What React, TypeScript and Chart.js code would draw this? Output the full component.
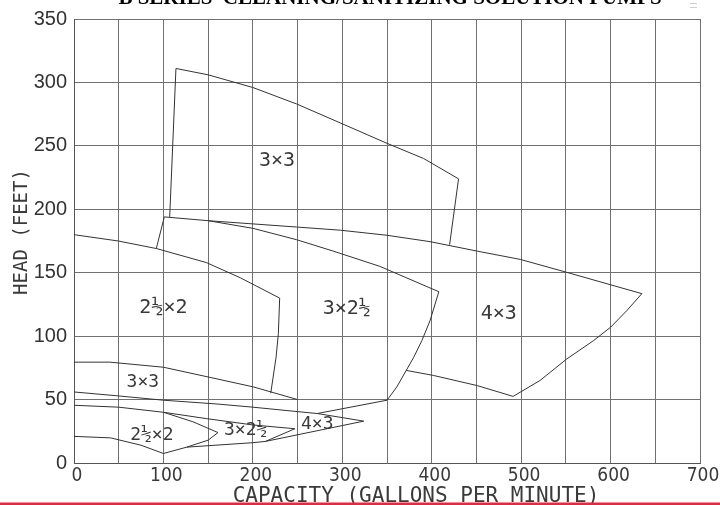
import React, { useEffect, useRef } from "react";
import { Chart, registerables } from "chart.js";

Chart.register(...registerables);

// ---- Text ----
const TITLE = "B SERIES  CLEANING/SANITIZING SOLUTION PUMPS";
const X_TITLE = "CAPACITY (GALLONS PER MINUTE)";
const Y_TITLE = "HEAD (FEET)";
const X_LABELED_TICKS = [0, 100, 200, 300, 400, 500, 600, 700];

// ---- Envelope outlines: [capacity gpm, head ft] ----
const BIG_3X3 = [[107, 194], [114, 311], [150, 306], [200, 296], [249, 283], [298, 268], [350, 252], [391, 240], [430, 224], [420, 172]];
const TOP_4X3 = [[101, 194], [150, 191], [249, 186], [298, 183.5], [350, 179.5], [398, 174.5], [451, 167], [499, 160.5], [550, 150.5], [600, 140.5], [635, 133.5]];
const EDGE_4X3 = [[635, 133.5], [618, 120], [600, 107], [581, 96.5], [551, 82], [521, 65], [491, 52.5], [451, 61], [402, 69], [371.5, 73]];
const TOP_3X2H = [[150, 191], [200, 185], [249, 176], [290, 167], [342, 155], [408, 135], [398, 112], [389, 96.5], [380, 83.5], [371.5, 73], [361, 60], [350, 49.5], [272, 39]];
const LEFT_3X2H = [[101, 194], [92, 169]];
const BIG_2HX2 = [[0, 180], [49.5, 175], [92.5, 169], [148, 158], [186, 146], [230, 130], [228.5, 102], [226, 83.5], [220, 55]];
const SMALL_3X3_TOP = [[0, 79.5], [40, 79.5], [100, 75.5], [152, 67.5], [200.5, 60], [250, 50]];
const LINE_56 = [[0, 56], [48, 53], [100, 49.5], [160, 46.5], [200, 44], [250, 40.5], [272, 39], [324, 33]];
const SMALL_2HX2_TOP = [[0, 45.5], [50, 44], [100, 40], [133, 32.5], [161, 24]];
const SMALL_2HX2_BOTTOM = [[0, 21], [41, 19.8], [75, 14], [100, 7.5], [126, 12.5], [150, 18], [161, 24]];
const SMALL_3X2H_TOP = [[100, 40], [148, 35], [200, 30], [247, 27], [214, 17]];
const SMALL_BOTTOM = [[126, 12.5], [200, 16], [214, 17], [324, 33]];

const OUTLINES = [BIG_3X3, TOP_4X3, EDGE_4X3, TOP_3X2H, LEFT_3X2H, BIG_2HX2, SMALL_3X3_TOP, LINE_56, SMALL_2HX2_TOP, SMALL_2HX2_BOTTOM, SMALL_3X2H_TOP, SMALL_BOTTOM];

// ---- Region labels ----
const LABEL_TEXTS = ["3×3", "2½×2", "3×2½", "4×3", "3×3", "2½×2", "3×2½", "4×3"];
const LABEL_X = [227, 100, 305, 475, 77, 87, 192, 272];
const LABEL_Y = [240, 124, 123.5, 119, 65, 23.3, 27.2, 32.2];
const LABEL_BIG = [true, true, true, true, false, false, false, false];

const MONO = '"DejaVu Sans Mono", monospace';
const TEXT_COLOR = "#3a3a3a";

const decorPlugin = {
  id: "decor",
  afterDraw(chart: any) {
    const { ctx, scales } = chart;
    const xs = scales.x;
    const ys = scales.y;
    ctx.save();
    // title (cut at top)
    ctx.fillStyle = "#000";
    ctx.font = 'bold 21px "Liberation Serif", "Times New Roman", serif';
    ctx.textAlign = "center";
    ctx.textBaseline = "alphabetic";
    ctx.fillText(TITLE, 390, 4);

    // axis titles
    ctx.fillStyle = TEXT_COLOR;
    ctx.font = "21px " + MONO;
    ctx.fillText(X_TITLE, 416, 501.5);
    ctx.save();
    ctx.translate(27, 232);
    ctx.rotate(-Math.PI / 2);
    ctx.font = "19px " + MONO;
    ctx.fillText(Y_TITLE, 0, 0);
    ctx.restore();

    // region labels
    for (let i = 0; i < LABEL_TEXTS.length; i++) {
      const size = LABEL_BIG[i] ? 20 : 18;
      ctx.font = size + "px " + MONO;
      const px = xs.getPixelForValue(LABEL_X[i]);
      const py = ys.getPixelForValue(LABEL_Y[i]);
      ctx.fillText(LABEL_TEXTS[i], px, py + size * 0.365);
    }

    // red rule at bottom
    ctx.fillStyle = "#e5283f";
    ctx.fillRect(0, 502.5, 720, 2.5);

    // faint marks top right
    ctx.strokeStyle = "#cfcfcf";
    ctx.lineWidth = 1;
    ctx.beginPath();
    ctx.moveTo(690, 3.5);
    ctx.lineTo(697, 3.5);
    ctx.moveTo(690, 7.5);
    ctx.lineTo(697, 7.5);
    ctx.stroke();
    ctx.restore();
  },
};

export default function App() {
  const ref = useRef<HTMLCanvasElement | null>(null);
  useEffect(() => {
    document.body.style.margin = "0";
    const canvas = ref.current;
    if (!canvas) return;
    const datasets = OUTLINES.map((pts) => ({
      data: pts.map((p) => ({ x: p[0], y: p[1] })),
      showLine: true,
      borderColor: "#333",
      borderWidth: 1,
      pointRadius: 0,
      tension: 0,
      fill: false,
    }));
    const gridColor = "#707070";
    const chart = new Chart(canvas, {
      type: "scatter",
      data: { datasets },
      plugins: [decorPlugin],
      options: {
        animation: false,
        responsive: false,
        devicePixelRatio: 1,
        layout: { padding: { top: 16, right: 20, left: 0, bottom: 0 } },
        plugins: { legend: { display: false }, tooltip: { enabled: false }, title: { display: false } },
        scales: {
          x: {
            type: "linear",
            min: 0,
            max: 700,
            ticks: {
              stepSize: 50,
              autoSkip: false,
              maxRotation: 0,
              padding: 2,
              labelOffset: 3,
              color: TEXT_COLOR,
              font: { family: '"Liberation Sans Narrow", "DejaVu Sans Condensed", sans-serif', size: 19 },
              callback: (v: any) => (X_LABELED_TICKS.includes(Number(v)) ? String(v) : ""),
            },
            grid: { color: gridColor, drawTicks: false, lineWidth: 1 },
            border: { color: "#555" },
            afterFit: (s: any) => {
              s.height = 42;
            },
          },
          y: {
            type: "linear",
            min: 0,
            max: 350,
            ticks: {
              stepSize: 50,
              padding: 7,
              color: "#333",
              font: { family: '"Liberation Sans", Arial, sans-serif', size: 20 },
            },
            grid: { color: gridColor, drawTicks: false, lineWidth: 1 },
            border: { color: "#555" },
            afterFit: (s: any) => {
              s.width = 74;
            },
          },
        },
      } as any,
    });
    return () => chart.destroy();
  }, []);
  return (
    <div style={{ position: "absolute", left: 0, top: 0, width: 720, height: 505, background: "#fff" }}>
      <canvas ref={ref} width={720} height={505} style={{ display: "block" }} />
    </div>
  );
}
